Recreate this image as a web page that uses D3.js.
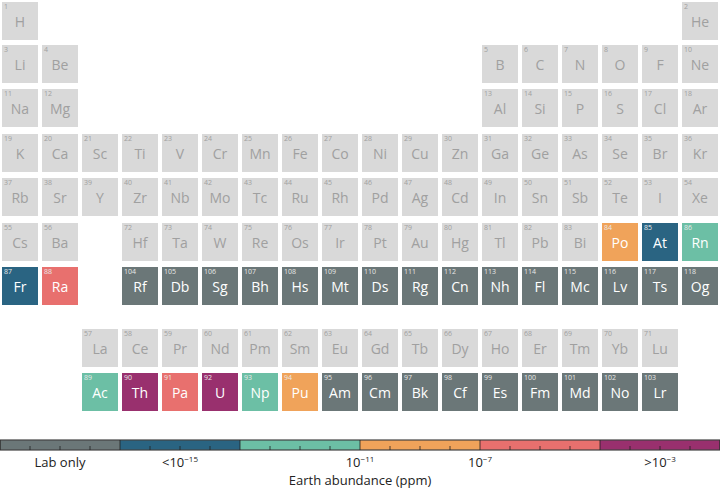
<!DOCTYPE html><html><head><script src="https://cdn.jsdelivr.net/npm/d3@7"></script>
<style>body{margin:0;background:#fff}</style></head><body><svg id="c" width="720" height="489"></svg>
<script>
const symbols=["H","He","Li","Be","B","C","N","O","F","Ne","Na","Mg","Al","Si","P","S","Cl","Ar","K","Ca","Sc","Ti","V","Cr","Mn","Fe","Co","Ni","Cu","Zn","Ga","Ge","As","Se","Br","Kr","Rb","Sr","Y","Zr","Nb","Mo","Tc","Ru","Rh","Pd","Ag","Cd","In","Sn","Sb","Te","I","Xe","Cs","Ba","La","Ce","Pr","Nd","Pm","Sm","Eu","Gd","Tb","Dy","Ho","Er","Tm","Yb","Lu","Hf","Ta","W","Re","Os","Ir","Pt","Au","Hg","Tl","Pb","Bi","Po","At","Rn","Fr","Ra","Ac","Th","Pa","U","Np","Pu","Am","Cm","Bk","Cf","Es","Fm","Md","No","Lr","Rf","Db","Sg","Bh","Hs","Mt","Ds","Rg","Cn","Nh","Fl","Mc","Lv","Ts","Og"];
const categories=["Lab only","<1e-15","1e-15..1e-11","1e-11..1e-7","1e-7..1e-3",">1e-3"];
const categoryColors=["#6b7778","#2a6482","#6cbfa5","#f0a35a","#e8706e","#99306e"];
const abundanceClass={84:3,85:1,86:2,87:1,88:4,89:2,90:5,91:4,92:5,93:2,94:3};
const colorbarLabels=[{t:"Lab only",v:0.5},{t:"<10",s:"−15",v:1.5},{t:"10",s:"−11",v:3},{t:"10",s:"−7",v:4},{t:">10",s:"−3",v:5.5}];
function pos(z){
 if(z==1)return[1,0]; if(z==2)return[18,0];
 if(z<=10)return[z<=4?z-2:z+8,1];
 if(z<=18)return[z<=12?z-10:z,2];
 if(z<=36)return[z-18,3];
 if(z<=54)return[z-36,4];
 if(z>=57&&z<=71)return[z-54,7];
 if(z>=89&&z<=103)return[z-86,8];
 if(z<=86){return[z<=56?z-54:z-68,5];}
 return[z<=88?z-86:z-100,6];
}
const F="Open Sans, DejaVu Sans, sans-serif";
const svg=d3.select("#c");
const x=d3.scaleLinear().domain([1,18]).range([2,682]);
const rowY=[2,45,89,134,178,223,267,329,373];
const cw=36,ch=38;
const g=svg.selectAll("g.el").data(symbols.map((s,i)=>({s,z:i+1}))).join("g")
 .attr("transform",d=>{const p=pos(d.z);return`translate(${x(p[0])},${rowY[p[1]]})`;});
g.append("rect").attr("width",cw).attr("height",ch)
 .attr("fill",d=>{const z=d.z;let c=abundanceClass[z];if(c===undefined&&(z>=95))c=0;return c===undefined?"#d9d9d9":categoryColors[c];});
const isCol=d=>d.z>=84;
g.append("text").attr("x",2).attr("y",7).attr("font-size",7).attr("font-family",F)
 .attr("fill",d=>isCol(d)?"#e8e8e8":"#a0a0a0").text(d=>d.z);
g.append("text").attr("x",cw/2).attr("y",25).attr("text-anchor","middle").attr("font-size",14).attr("font-family",F)
 .attr("fill",d=>isCol(d)?"#fff":"#a0a0a0").text(d=>d.s);
const cb=d3.scaleLinear().domain([0,6]).range([0,720]);
svg.selectAll("rect.cb").data(categoryColors).join("rect").attr("x",(d,i)=>cb(i)).attr("y",440).attr("width",cb(1)-cb(0)).attr("height",10).attr("fill",d=>d);
svg.append("rect").attr("x",0).attr("y",440).attr("width",720).attr("height",10).attr("fill","none").attr("stroke","#444").attr("stroke-width",1.2);
svg.selectAll("line.t").data(d3.range(0,24.01,1)).join("line").attr("x1",d=>cb(d/4)).attr("x2",d=>cb(d/4)).attr("y1",450).attr("y2",d=>d%4==0?440:446).attr("stroke","#222").attr("stroke-width",0.8);
const lt=svg.selectAll("text.cl").data(colorbarLabels).join("text").attr("x",d=>cb(d.v)).attr("y",467).attr("text-anchor","middle").attr("font-size",13).attr("font-family",F).attr("fill","#222");
lt.append("tspan").text(d=>d.t);
lt.filter(d=>d.s).append("tspan").attr("dy",-5).attr("font-size",8).text(d=>d.s);
svg.append("text").attr("x",360).attr("y",485).attr("text-anchor","middle").attr("font-size",13).attr("font-family",F).attr("fill","#222").text("Earth abundance (ppm)");
</script></body></html>
